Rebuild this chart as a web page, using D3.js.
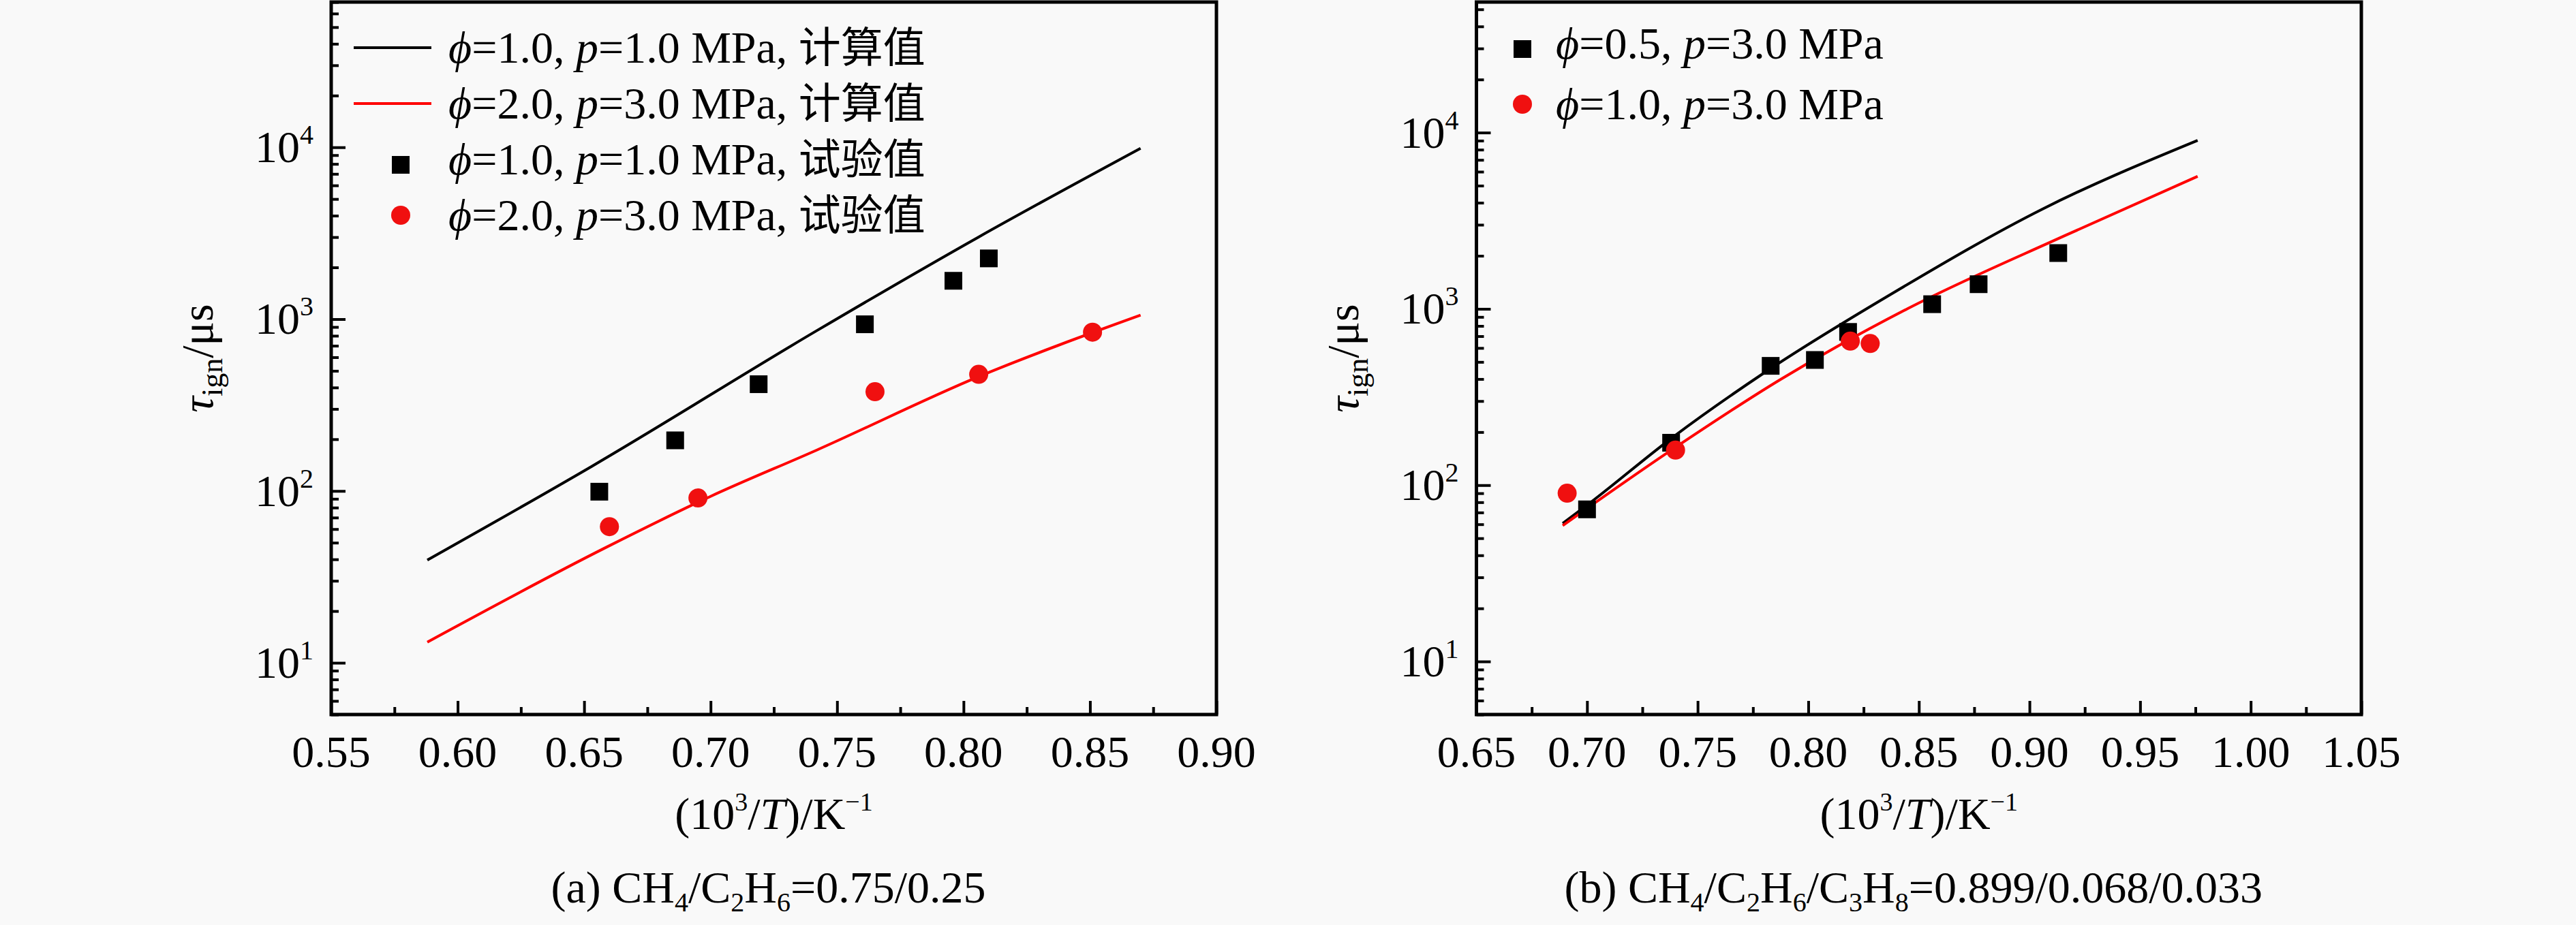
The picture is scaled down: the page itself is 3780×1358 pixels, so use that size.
<!DOCTYPE html>
<html>
<head>
<meta charset="utf-8">
<script src="https://cdn.jsdelivr.net/npm/d3@7"></script>
<style>
  body { margin: 0; background: #f9f9f9; }
  svg { display: block; }
  text { font-family: "Liberation Serif", "Times New Roman", serif; fill: #000; }
</style>
</head>
<body>
<div id="chart"></div>
<script>

// ---- panel (a) CH4/C2H6 ----
var xCalcA1 = [0.588, 0.653, 0.742, 0.806, 0.870];
var yCalcA1 = [39.6, 139, 857, 3006, 9860];
var xCalcA2 = [0.588, 0.658, 0.700, 0.742, 0.806, 0.870];
var yCalcA2 = [13.2, 46.4, 93, 173, 463, 1054];
var xExpA1 = [0.656, 0.686, 0.719, 0.761, 0.796, 0.810];
var yExpA1 = [99, 197, 418, 933, 1671, 2256];
var xExpA2 = [0.660, 0.695, 0.765, 0.806, 0.851];
var yExpA2 = [62, 91, 378, 477, 839];

// ---- panel (b) CH4/C2H6/C3H8 ----
var xCalcB1 = [0.689, 0.700, 0.739, 0.780, 0.838, 0.906, 0.976];
var yCalcB1 = [60.7, 77, 188, 433, 1224, 3690, 9030];
var xCalcB2 = [0.689, 0.740, 0.7875, 0.845, 0.916, 0.976];
var yCalcB2 = [59, 164, 398, 1004, 2604, 5643];
var xExpB1 = [0.700, 0.738, 0.783, 0.803, 0.818, 0.856, 0.877, 0.913];
var yExpB1 = [72.9, 174, 475, 513, 740, 1063, 1380, 2073];
var xExpB2 = [0.691, 0.740, 0.819, 0.828];
var yExpB2 = [90, 158, 656, 636];

// tick labels
var xTicksA = [0.55, 0.60, 0.65, 0.70, 0.75, 0.80, 0.85, 0.90];
var xTicksB = [0.65, 0.70, 0.75, 0.80, 0.85, 0.90, 0.95, 1.00, 1.05];
var yExponents = [1, 2, 3, 4];

var RED = "#ff0000";
var DOT_RED = "#f01010";
var FS = 66;

var svg = d3.select("#chart").append("svg")
    .attr("width", 3780)
    .attr("height", 1358);

function zip(xs, ys) {
    return xs.map(function (d, i) { return [d, ys[i]]; });
}

function drawPanel(p) {
    var x = d3.scaleLinear().domain(p.xDomain).range([p.left, p.right]);
    var y = d3.scaleLog().domain(p.yDomain).range([p.bottom, p.top]);
    var g = svg.append("g");

    // minor / major ticks (inward)
    var xMinor = [];
    for (var i = 0; i < p.xTicks.length - 1; i++) xMinor.push(+(p.xTicks[i] + 0.025).toFixed(3));
    var yMinor = [];
    for (var e = 0; e <= 4; e++) {
        for (var m = 2; m <= 9; m++) {
            var v = m * Math.pow(10, e);
            if (v >= p.yDomain[0] && v <= p.yDomain[1]) yMinor.push(v);
        }
    }

    function thick(s) { s.select(".domain").remove(); s.selectAll("line").attr("stroke-width", 4); }

    g.append("g")
        .attr("transform", "translate(0," + p.bottom + ")")
        .call(d3.axisBottom(x).tickValues(p.xTicks).tickSize(-20).tickFormat(""))
        .call(thick);
    g.append("g")
        .attr("transform", "translate(0," + p.bottom + ")")
        .call(d3.axisBottom(x).tickValues(xMinor).tickSize(-11).tickFormat(""))
        .call(thick);
    g.append("g")
        .attr("transform", "translate(" + p.left + ",0)")
        .call(d3.axisLeft(y).tickValues(yExponents.map(function (d) { return Math.pow(10, d); })).tickSize(-21).tickFormat(""))
        .call(thick);
    g.append("g")
        .attr("transform", "translate(" + p.left + ",0)")
        .call(d3.axisLeft(y).tickValues(yMinor).tickSize(-11).tickFormat(""))
        .call(thick);

    // frame
    g.append("rect")
        .attr("x", p.left).attr("y", p.top)
        .attr("width", p.right - p.left).attr("height", p.bottom - p.top)
        .attr("fill", "none").attr("stroke", "#000").attr("stroke-width", 5);

    // x tick labels
    g.selectAll(".xl").data(p.xTicks).enter().append("text")
        .attr("x", function (d) { return x(d); })
        .attr("y", p.bottom + 77)
        .attr("text-anchor", "middle")
        .attr("font-size", FS)
        .text(function (d) { return d.toFixed(2); });

    // y tick labels 10^n
    yExponents.forEach(function (n) {
        var t = g.append("text")
            .attr("x", p.left - 26)
            .attr("y", y(Math.pow(10, n)) + 22)
            .attr("text-anchor", "end")
            .attr("font-size", FS);
        t.append("tspan").text("10");
        t.append("tspan").attr("font-size", 40).attr("dy", -27).text(n);
    });

    // y title
    var yt = g.append("text")
        .attr("transform", "translate(" + (p.left - 174) + "," + ((p.top + p.bottom) / 2) + ") rotate(-90)")
        .attr("text-anchor", "middle")
        .attr("font-size", FS);
    yt.append("tspan").attr("font-style", "italic").text("\u03c4");
    yt.append("tspan").attr("font-size", 44).attr("dy", 14).text("ign");
    yt.append("tspan").attr("dy", -14).text("/\u03bcs");

    // x title
    var xt = g.append("text")
        .attr("x", (p.left + p.right) / 2)
        .attr("y", 1217)
        .attr("text-anchor", "middle")
        .attr("font-size", FS);
    xt.append("tspan").text("(10");
    xt.append("tspan").attr("font-size", 38).attr("dy", -27).text("3");
    xt.append("tspan").attr("dy", 27).text("/");
    xt.append("tspan").attr("font-style", "italic").text("T");
    xt.append("tspan").text(")/K");
    xt.append("tspan").attr("font-size", 38).attr("dy", -27).text("\u22121");

    // caption (subscripts lowered, next part raised back)
    var cp = g.append("text")
        .attr("x", (p.left + p.right) / 2 - 8)
        .attr("y", 1325)
        .attr("text-anchor", "middle")
        .attr("font-size", FS);
    var shift = 0;
    p.caption.forEach(function (part) {
        var target = part.sub ? 13 : 0;
        var ts = cp.append("tspan").attr("dy", target - shift).text(part.t);
        if (part.sub) ts.attr("font-size", 40);
        shift = target;
    });

    // curves
    var line = d3.line()
        .x(function (d) { return x(d[0]); })
        .y(function (d) { return y(d[1]); })
        .curve(d3.curveMonotoneX);
    p.lines.forEach(function (l) {
        g.append("path")
            .datum(zip(l.xs, l.ys))
            .attr("d", line)
            .attr("fill", "none")
            .attr("stroke", l.color)
            .attr("stroke-width", 4);
    });

    // experimental points
    p.points.forEach(function (s) {
        var pts = zip(s.xs, s.ys);
        if (s.shape === "square") {
            g.selectAll(null).data(pts).enter().append("rect")
                .attr("x", function (d) { return x(d[0]) - 13; })
                .attr("y", function (d) { return y(d[1]) - 13; })
                .attr("width", 26).attr("height", 26)
                .attr("fill", "#000");
        } else {
            g.selectAll(null).data(pts).enter().append("circle")
                .attr("cx", function (d) { return x(d[0]); })
                .attr("cy", function (d) { return y(d[1]); })
                .attr("r", 14)
                .attr("fill", DOT_RED);
        }
    });

    // legend
    p.legend.forEach(function (item) {
        if (item.kind === "line") {
            g.append("line")
                .attr("x1", item.sx - 57).attr("x2", item.sx + 57)
                .attr("y1", item.y).attr("y2", item.y)
                .attr("stroke", item.color).attr("stroke-width", 4);
        } else if (item.kind === "square") {
            g.append("rect")
                .attr("x", item.sx - 13).attr("y", item.y - 13 + 8)
                .attr("width", 26).attr("height", 26).attr("fill", "#000");
        } else {
            g.append("circle")
                .attr("cx", item.sx).attr("cy", item.y).attr("r", 14).attr("fill", DOT_RED);
        }
        var t = g.append("text")
            .attr("x", item.tx)
            .attr("y", item.y + 22)
            .attr("font-size", FS);
        t.append("tspan").attr("font-style", "italic").text("\u03d5");
        t.append("tspan").text("=" + item.phi + ", ");
        t.append("tspan").attr("font-style", "italic").text("p");
        t.append("tspan").text("=" + item.p + " MPa" + (item.zh ? ", " : ""));
        if (item.zh) {
            t.append("tspan")
                .style("font-family", "'Noto Sans CJK SC', sans-serif")
                .attr("font-size", 62)
                .text(item.zh);
        }
    });
}

drawPanel({
    left: 486, right: 1785, top: 3, bottom: 1049,
    xDomain: [0.55, 0.90], yDomain: [5, 70000],
    xTicks: xTicksA,
    caption: [{t: "(a) CH"}, {t: "4", sub: true}, {t: "/C"}, {t: "2", sub: true}, {t: "H"}, {t: "6", sub: true}, {t: "=0.75/0.25"}],
    lines: [
        {xs: xCalcA1, ys: yCalcA1, color: "#000"},
        {xs: xCalcA2, ys: yCalcA2, color: RED}
    ],
    points: [
        {xs: xExpA1, ys: yExpA1, shape: "square"},
        {xs: xExpA2, ys: yExpA2, shape: "circle"}
    ],
    legend: [
        {kind: "line", color: "#000", sx: 576, tx: 658, y: 70, phi: "1.0", p: "1.0", zh: "计算值"},
        {kind: "line", color: RED, sx: 576, tx: 658, y: 152, phi: "2.0", p: "3.0", zh: "计算值"},
        {kind: "square", sx: 588, tx: 658, y: 234, phi: "1.0", p: "1.0", zh: "试验值"},
        {kind: "circle", sx: 588, tx: 658, y: 316, phi: "2.0", p: "3.0", zh: "试验值"}
    ]
});

drawPanel({
    left: 2166.5, right: 3465, top: 3, bottom: 1049,
    xDomain: [0.65, 1.05], yDomain: [5, 55000],
    xTicks: xTicksB,
    caption: [{t: "(b) CH"}, {t: "4", sub: true}, {t: "/C"}, {t: "2", sub: true}, {t: "H"}, {t: "6", sub: true},
              {t: "/C"}, {t: "3", sub: true}, {t: "H"}, {t: "8", sub: true}, {t: "=0.899/0.068/0.033"}],
    lines: [
        {xs: xCalcB1, ys: yCalcB1, color: "#000"},
        {xs: xCalcB2, ys: yCalcB2, color: RED}
    ],
    points: [
        {xs: xExpB1, ys: yExpB1, shape: "square"},
        {xs: xExpB2, ys: yExpB2, shape: "circle"}
    ],
    legend: [
        {kind: "square", sx: 2234, tx: 2283, y: 64, phi: "0.5", p: "3.0"},
        {kind: "circle", sx: 2234, tx: 2283, y: 153, phi: "1.0", p: "3.0"}
    ]
});

</script>
</body>
</html>
